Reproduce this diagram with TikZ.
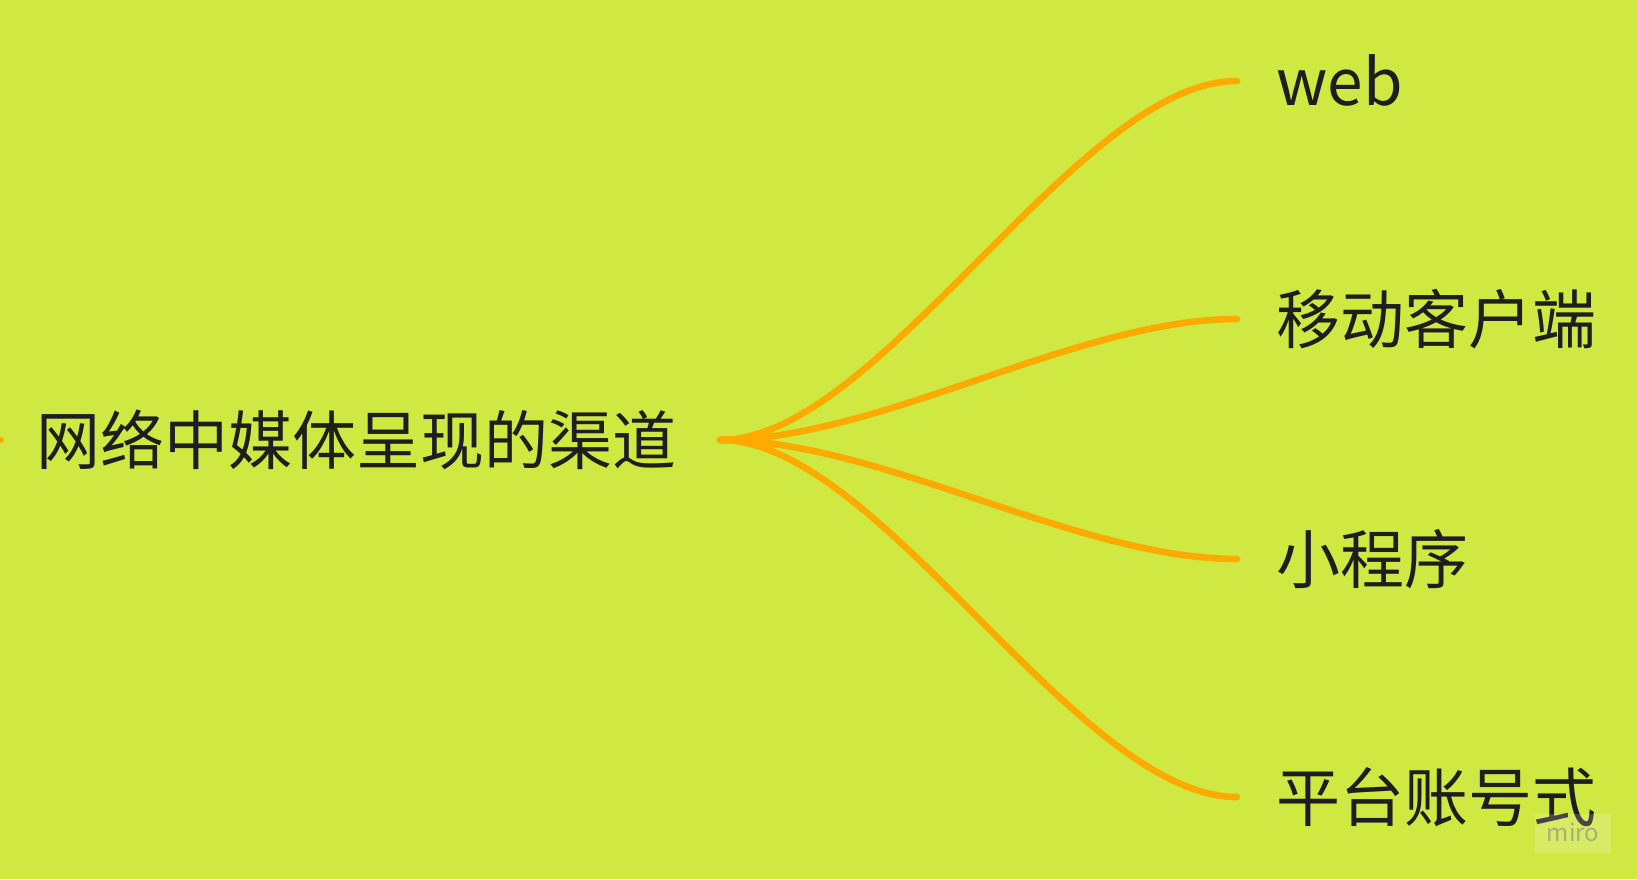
\documentclass[tikz,border=0pt]{standalone}
\usepackage{fontspec}
\setmainfont{Noto Sans CJK SC}
\usetikzlibrary{positioning}

\definecolor{boardbg}{RGB}{207,232,66}
\definecolor{branchorange}{RGB}{255,170,0}
\definecolor{inkdark}{RGB}{30,30,30}
\definecolor{markgray}{RGB}{165,175,130}

\begin{document}
\begin{tikzpicture}[
    x=0.5pt, y=-0.5pt,
    every node/.style={font=\fontsize{32pt}{36pt}\selectfont, text=inkdark, text height=28pt, text depth=4pt, inner ysep=0pt},
    rootbox/.style={anchor=east, inner xsep=21.5pt},
    leafbox/.style={anchor=west, inner xsep=19.5pt},
    branch/.style={draw=branchorange, line width=3.3pt, line cap=round},
]

% ---- Board ----
\fill[boardbg] (0,0) rectangle (1637,879);
\clip (0,0) rectangle (1637,879);

% ---- Root ----
\node[rootbox] (root) at (720,440) {网络中媒体呈现的渠道};

% ---- Leaves ----
\node[leafbox] (web) at (1237,81) {web};
\node[leafbox] (app) at (1237,319) {移动客户端};
\node[leafbox] (mini) at (1237,559) {小程序};
\node[leafbox] (account) at (1237,797) {平台账号式};

% Branches fan out from the root
\foreach \leaf in {web, app, mini, account}
  \draw[branch] (root.east) .. controls +(160,0) and +(-160,0) .. (\leaf.west);

% Stub of the parent branch at the left edge
\coordinate (parentend) at (-30,440);
\coordinate (rootin) at (1,440);
\draw[branch] (parentend) -- (rootin);

% ---- Watermark ----
\fill[white, opacity=0.18] (1535,814) rectangle (1611,853);
\node[font=\fontsize{12pt}{14pt}\selectfont, text=markgray, text height=9pt, text depth=0pt] (mark) at (1573,832) {miro};

\end{tikzpicture}
\end{document}
